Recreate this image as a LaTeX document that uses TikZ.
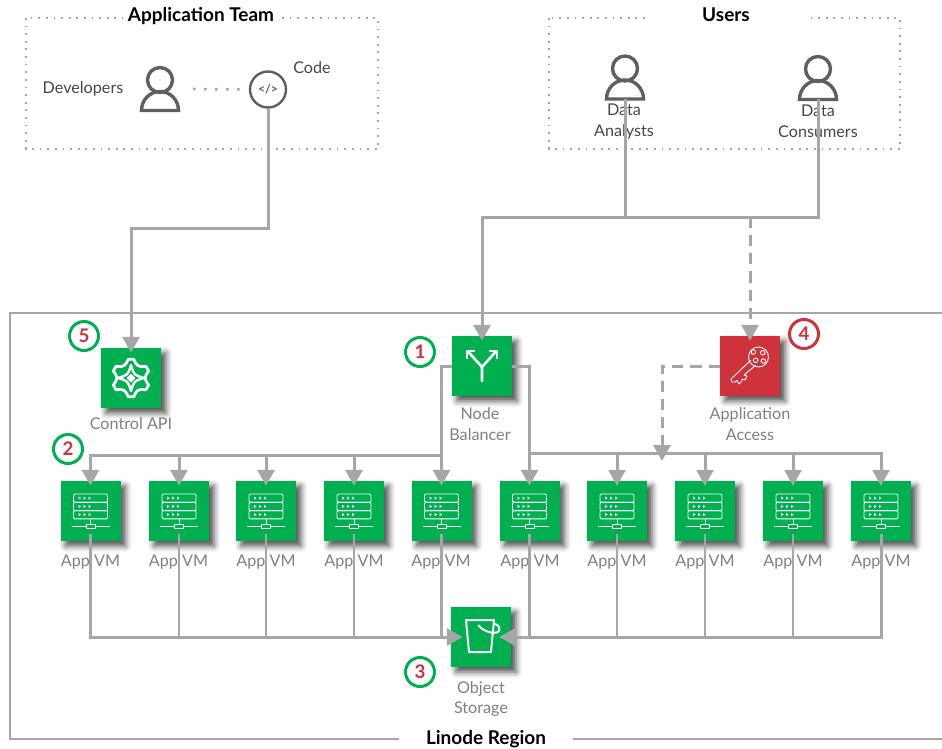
\documentclass[tikz,border=0pt]{standalone}
\usepackage{fontspec}
\setmainfont{Lato}
\usetikzlibrary{arrows.meta,shadows.blur}
\definecolor{awsgreen}{HTML}{00AF50}
\definecolor{awsred}{HTML}{CF323A}
\definecolor{linkgray}{HTML}{A6A6A6}
\definecolor{icongray}{HTML}{5F5F5F}
\def\px{0.03cm}
\begin{document}
\begin{tikzpicture}[x=\px,y=-\px]

\useasboundingbox (0,0) rectangle (942,748);

\tikzset{
  box/.style={minimum size=60*\px,inner sep=0pt,draw=none,
    blur shadow={shadow xshift=5*\px,shadow yshift=-5*\px,shadow blur radius=6*\px,shadow opacity=70}},
  greenbox/.style={box,fill=awsgreen},
  redbox/.style={box,fill=awsred},
  caption/.style={inner sep=0pt,align=center,text=black!50,font=\fontsize{13.8}{17.9}\selectfont},
  toplabel/.style={inner sep=0pt,align=center,text=black!72,font=\fontsize{13.8}{17.9}\selectfont},
  title/.style={fill=white,inner ysep=1pt,font=\fontsize{16.2}{18}\selectfont\bfseries},
  region/.style={line width=2*\px,draw=linkgray},
  dots/.style={line width=1.7*\px,draw=black!35,dash pattern=on 1.5pt off 5pt},
  teamdots/.style={line width=2.6*\px,draw=linkgray,dash pattern=on 2.2pt off 7.2pt},
  link/.style={line width=3*\px,draw=linkgray,-{Triangle[length=16*\px,width=17*\px]},shorten >=-5*\px},
  plain/.style={line width=3*\px,draw=linkgray},
  dashlink/.style={link,dash pattern=on 9.5pt off 6pt},
  badge/.style={circle,minimum size=29*\px,inner sep=0pt,line width=3*\px,text=awsred,
    font=\fontsize{16}{18}\selectfont\bfseries},
  person/.pic={
    \draw[line width=3.4*\px,icongray] (0,-30.5) circle (12.5);
    \draw[line width=3.4*\px,icongray] (-18.5,0) arc (180:360:18.5 and 19) -- cycle;
  },
  vmicon/.pic={
    \draw[white,line width=0.9*\px,rounded corners=1pt] (-17,-17) rectangle (17,-8.7);
    \draw[white,line width=0.9*\px,rounded corners=1pt] (-17,-8.7) rectangle (17,-0.4);
    \draw[white,line width=0.9*\px,rounded corners=1pt] (-17,-0.4) rectangle (17,7.8);
    \fill[white] (-12,-14.5) -- (-9.5,-12.9) -- (-12,-11.3) -- cycle;
    \fill[white] (-7,-14.5) -- (-4.5,-12.9) -- (-7,-11.3) -- cycle;
    \fill[white] (-2,-14.5) -- (0.5,-12.9) -- (-2,-11.3) -- cycle;
    \fill[white] (-12,-6.2) -- (-9.5,-4.6) -- (-12,-3) -- cycle;
    \fill[white] (-7,-6.2) -- (-4.5,-4.6) -- (-7,-3) -- cycle;
    \fill[white] (-2,-6.2) -- (0.5,-4.6) -- (-2,-3) -- cycle;
    \fill[white] (-12,2) -- (-9.5,3.6) -- (-12,5.2) -- cycle;
    \fill[white] (-7,2) -- (-4.5,3.6) -- (-7,5.2) -- cycle;
    \fill[white] (-2,2) -- (0.5,3.6) -- (-2,5.2) -- cycle;
    \draw[white,line width=0.9*\px] (0,7.8) -- (0,13.3);
    \draw[white,line width=0.9*\px] (-19,15.3) -- (-4.5,15.3) (4.5,15.3) -- (19,15.3);
    \draw[white,line width=0.9*\px] (-4.5,13.3) rectangle (4.5,17.3);
  },
}

%% groups
\draw[dots] (26,18) rectangle (378,149);
\draw[dots] (549,18) rectangle (900,149);
\draw[region] (942,313) -- (10,313) -- (10,739) -- (942,739);

\node[title,minimum width=157*\px] (appteam) at (201,16) {Application Team};
\node[title,minimum width=157*\px] (users) at (726,15) {Users};
\node[title,minimum width=174*\px] (linode) at (486,739) {Linode Region};

%% top labels
\node[toplabel] (devlabel) at (83,89) {Developers};
\node[toplabel] (codelabel) at (312,68) {Code};
\node[toplabel] (analystlabel) at (624,121.5) {Data\\Analysts};
\node[toplabel] (consumerlabel) at (818,121.5) {Data\\Consumers};

\pic at (160,110.5) {person};
\pic at (625,99) {person};
\pic at (818,99.5) {person};
\coordinate (devs) at (193,89);
\coordinate (analysts) at (625,99);
\coordinate (consumers) at (818,99);
\node[circle,draw=icongray,line width=2.4*\px,minimum size=36*\px,inner sep=0pt,
  text=icongray,font=\fontsize{10.5}{12}\selectfont\bfseries] (code) at (268,89.5) {</>};

%% boxes
\node[greenbox] (api) at (131,378) {};
\node[greenbox] (nbal) at (482,366) {};
\node[redbox] (access) at (750,366) {};
\node[greenbox] (store) at (481,637) {};
\node[greenbox] (vm1) at (90.5,511) {};
\node[greenbox] (vm2) at (179,511) {};
\node[greenbox] (vm3) at (266,511) {};
\node[greenbox] (vm4) at (354,511) {};
\node[greenbox] (vm5) at (441.5,511) {};
\node[greenbox] (vm6) at (529.5,511) {};
\node[greenbox] (vm7) at (617,511) {};
\node[greenbox] (vm8) at (705,511) {};
\node[greenbox] (vm9) at (793,511) {};
\node[greenbox] (vm10) at (881,511) {};

%% captions
\node[caption] (apilabel) at (131,424) {Control API};
\node[caption] (nballabel) at (480,424) {Node\\Balancer};
\node[caption] (accesslabel) at (750,424) {Application\\Access};
\node[caption] (storelabel) at (481,699) {Object\\Storage};
\node[caption] (vmlabel1) at (90.5,562) {App VM};
\node[caption] (vmlabel2) at (178.5,562) {App VM};
\node[caption] (vmlabel3) at (266,562) {App VM};
\node[caption] (vmlabel4) at (354,562) {App VM};
\node[caption] (vmlabel5) at (441,562) {App VM};
\node[caption] (vmlabel6) at (530,562) {App VM};
\node[caption] (vmlabel7) at (617,562) {App VM};
\node[caption] (vmlabel8) at (705,562) {App VM};
\node[caption] (vmlabel9) at (793,562) {App VM};
\node[caption] (vmlabel10) at (881,562) {App VM};

%% connectors
\draw[teamdots,shorten >=8*\px] (devs) -- (code.west);
\coordinate (apibend) at (131,228);
\coordinate (trunk) at (818,217);
\coordinate (busleft) at (442,455);
\coordinate (busright) at (529.5,453);
\coordinate (accesstip) at (662,456);

\draw[link] (code.south) -- (code.south |- apibend) -- (apibend) -- (api.north);
\draw[plain] (analysts) -- (analysts |- trunk);
\draw[link] (consumers) -- (trunk) -| (nbal.north);
\draw[dashlink] (access |- trunk) -- (access.north);
\draw[link] (nbal.west) -| (vm5.north);
\draw[link] (nbal.east) -| (vm6.north);
\draw[dashlink] (access.west) -| (accesstip);

\draw[link] (busleft) -| (vm1.north);
\draw[link] (vm2 |- busleft) -- (vm2.north);
\draw[link] (vm3 |- busleft) -- (vm3.north);
\draw[link] (vm4 |- busleft) -- (vm4.north);
\draw[link] (busright) -| (vm10.north);
\draw[link] (vm7 |- busright) -- (vm7.north);
\draw[link] (vm8 |- busright) -- (vm8.north);
\draw[link] (vm9 |- busright) -- (vm9.north);

\tikzset{down/.style={plain,line width=2.2*\px,shorten <=-7*\px}}
\draw[down] (vm2.south) -- (vm2 |- store.west);
\draw[down] (vm3.south) -- (vm3 |- store.west);
\draw[down] (vm4.south) -- (vm4 |- store.west);
\draw[down] (vm5.south) -- (vm5 |- store.west);
\draw[down] (vm6.south) -- (vm6 |- store.west);
\draw[down] (vm7.south) -- (vm7 |- store.west);
\draw[down] (vm8.south) -- (vm8 |- store.west);
\draw[down] (vm9.south) -- (vm9 |- store.west);
\draw[link,shorten <=-7*\px,shorten >=-12*\px] (vm1.south) |- (store.west);
\draw[link,shorten <=-7*\px,shorten >=-12*\px] (vm10.south) |- (store.east);

%% icons
\pic at (vm1) {vmicon};
\pic at (vm2) {vmicon};
\pic at (vm3) {vmicon};
\pic at (vm4) {vmicon};
\pic at (vm5) {vmicon};
\pic at (vm6) {vmicon};
\pic at (vm7) {vmicon};
\pic at (vm8) {vmicon};
\pic at (vm9) {vmicon};
\pic at (vm10) {vmicon};

% balancer
\begin{scope}[shift={(nbal)},white,line width=2.6*\px,line cap=round,line join=round]
\draw (0,15) -- (0,1) -- (-13.5,-14);
\draw (0,1) -- (13.5,-14);
\draw (-8,-15) -- (-15,-15) -- (-15,-8);
\draw (8,-15) -- (15,-15) -- (15,-8);
\end{scope}

% key
\begin{scope}[shift={(access)},white,line width=0.9*\px,line join=round]
\draw (0.7,-5.7) -- (-19,13) -- (-18.5,16) -- (-15,16) -- (-13,14.5) -- (-11,18) -- (-8,15) -- (-8,13) -- (-5,14) -- (-3,10) -- (-6,9) -- (5.7,-0.7);
\draw (8.5,-9) circle (10);
\draw (3.3,-14) circle (2.3);
\draw (12.7,-13.3) circle (2.3);
\draw (5.7,-5.7) circle (2.3);
\draw (13.3,-5) circle (2.3);
\end{scope}

% gear
\begin{scope}[shift={(api)},white,line width=2.8*\px,line join=round]
\draw (82:19) -- (98:19) .. controls (120:13) .. (142:19) -- (158:19) .. controls (180:13) .. (202:19)
  -- (218:19) .. controls (240:13) .. (262:19) -- (278:19) .. controls (300:13) .. (322:19)
  -- (338:19) .. controls (0:13) .. (22:19) -- (38:19) .. controls (60:13) .. cycle;
\draw[line width=2.4*\px] (0,-13) .. controls (3,-3) .. (13,0) .. controls (3,3) .. (0,13)
  .. controls (-3,3) .. (-13,0) .. controls (-3,-3) .. cycle;
\fill (0,-4.5) -- (4.5,0) -- (0,4.5) -- (-4.5,0) -- cycle;
\end{scope}

% bucket
\begin{scope}[shift={(store)},white,line width=2*\px,line join=round]
\draw (-15,-17) -- (13,-17) -- (10,15) -- (-12,15) -- cycle;
\draw (-2.7,-12) .. controls (2,-5) and (15,-2) .. (18,-6) .. controls (20,-11) and (15,-13) .. (13,-13);
\end{scope}

%% numbers
\node[badge,draw=awsgreen] (num1) at (420,352) {1};
\node[badge,draw=awsgreen] (num2) at (68,449) {2};
\node[badge,draw=awsgreen] (num3) at (420,672) {3};
\node[badge,draw=awsred] (num4) at (804,334) {4};
\node[badge,draw=awsgreen] (num5) at (84,336) {5};

\end{tikzpicture}
\end{document}
